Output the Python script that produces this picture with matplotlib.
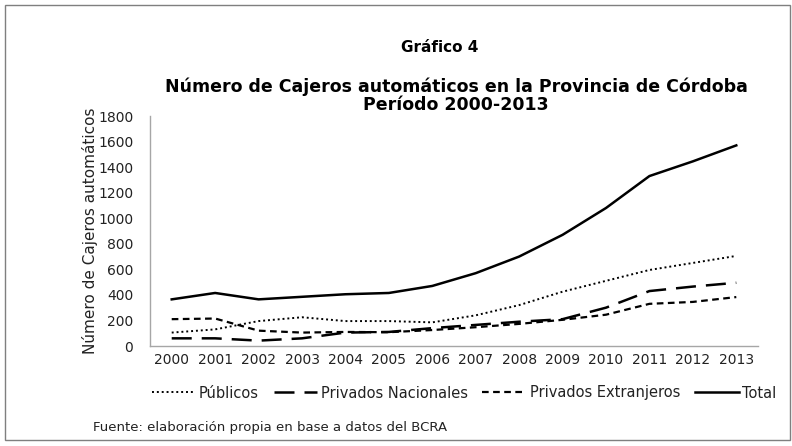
import matplotlib
matplotlib.use("Agg")
import matplotlib.pyplot as plt
from matplotlib.patches import Rectangle

years = [2000, 2001, 2002, 2003, 2004, 2005, 2006, 2007, 2008, 2009, 2010, 2011, 2012, 2013]
publicos = [105, 130, 195, 225, 195, 195, 185, 240, 320, 425, 510, 595, 650, 705]
privados_nac = [60, 60, 42, 60, 105, 110, 140, 165, 190, 210, 300, 430, 465, 495]
privados_ext = [210, 215, 120, 105, 110, 108, 125, 147, 173, 205, 245, 330, 345, 383]
total = [365, 415, 365, 385, 405, 415, 470, 570, 700, 870, 1080, 1330, 1445, 1570]

plt.rcParams["font.family"] = ["DejaVu Sans"]

fig = plt.figure(figsize=(7.92, 4.46), dpi=100)
W, H = 792, 446

# frame around the whole figure
fig.patches.append(Rectangle((5 / W, 6 / H), 785 / W, 435 / H, transform=fig.transFigure,
                             fill=False, edgecolor="#7f7f7f", linewidth=1))

ax = fig.add_axes([150 / W, 1 - 346 / H, (758 - 150) / W, (346 - 116) / H])

ax.plot(years, publicos, color="black", linestyle=(0, (1, 1.5)), linewidth=1.4, label="Públicos")
ax.plot(years, privados_nac, color="black", linestyle=(0, (8, 4)), linewidth=1.8, label="Privados Nacionales")
ax.plot(years, privados_ext, color="black", linestyle=(0, (3, 2)), linewidth=1.6, label="Privados Extranjeros")
ax.plot(years, total, color="black", linestyle="-", linewidth=1.8, label="Total")

ax.set_xlim(1999.5, 2013.5)
ax.set_ylim(0, 1800)
ax.set_yticks(range(0, 1801, 200))
ax.set_xticks(years)
ax.tick_params(axis="both", length=0, labelsize=10, colors="#222222")
ax.tick_params(axis="x", pad=5)
ax.tick_params(axis="y", pad=12)

for s in ["top", "right"]:
    ax.spines[s].set_visible(False)
for s in ["left", "bottom"]:
    ax.spines[s].set_color("#a6a6a6")
    ax.spines[s].set_linewidth(1)

ax.set_ylabel("Número de Cajeros automáticos", fontsize=11, labelpad=0, color="#222222")

fig.text(440 / W, 1 - 47 / H, "Gráfico 4", ha="center", va="center", fontsize=11, fontweight="bold")
fig.text(456 / W, 1 - 96 / H, "Número de Cajeros automáticos en la Provincia de Córdoba\nPeríodo 2000-2013",
         ha="center", va="center", fontsize=12.5, fontweight="bold", linespacing=1.0)

ax.legend(loc="center", bbox_to_anchor=(464 / W, 1 - 393 / H), bbox_transform=fig.transFigure,
          ncol=4, frameon=False, fontsize=10.5, handlelength=3, handletextpad=0.25, columnspacing=1.0,
          labelcolor="#222222")

fig.text(93 / W, 1 - 428 / H, "Fuente: elaboración propia en base a datos del BCRA",
         ha="left", va="center", fontsize=9.5, color="#222222")

fig.savefig("out.png", dpi=100)
